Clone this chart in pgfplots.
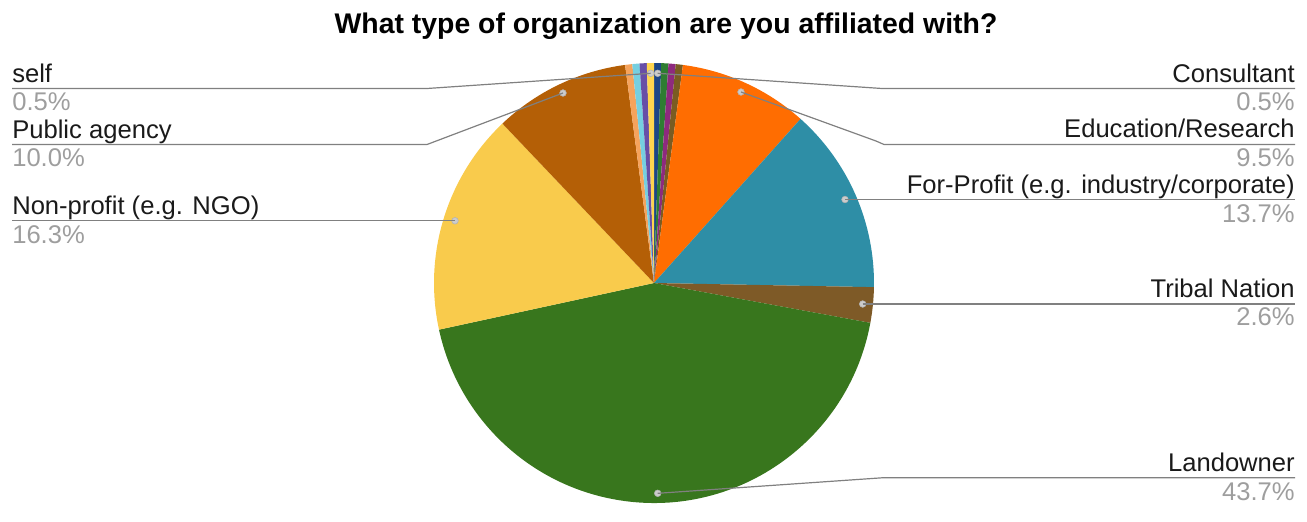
\documentclass[border=0pt]{standalone}
\usepackage{pgfplots}
\pgfplotsset{compat=1.18}
\usepackage{pgfplotstable}
\usepackage{fontspec}
\setmainfont{Liberation Sans}

\definecolor{pc0}{HTML}{1C4587}
\definecolor{pc1}{HTML}{2E7D32}
\definecolor{pc2}{HTML}{8E2A7E}
\definecolor{pc3}{HTML}{7A5C22}
\definecolor{pc4}{HTML}{FF6D01}
\definecolor{pc5}{HTML}{2E8EA6}
\definecolor{pc6}{HTML}{7E5A27}
\definecolor{pc7}{HTML}{38761D}
\definecolor{pc8}{HTML}{F9CB4C}
\definecolor{pc9}{HTML}{B45F06}
\definecolor{pc10}{HTML}{F6A35C}
\definecolor{pc11}{HTML}{76CFE0}
\definecolor{pc12}{HTML}{674EA7}
\definecolor{pc13}{HTML}{FFD54F}
\definecolor{lead}{HTML}{808080}
\definecolor{pctgray}{HTML}{9E9E9E}
\definecolor{txt}{HTML}{1A1A1A}

% slices clockwise from 12 o'clock
\pgfplotstableread{
pct idx
0.525 0
0.525 1
0.525 2
0.525 3
9.5 4
13.7 5
2.6 6
43.7 7
16.3 8
10.0 9
0.525 10
0.525 11
0.525 12
0.525 13
}\piedata
\pgfplotstablecreatecol[expr accum={\pgfmathaccuma + \thisrow{pct}}{0}]{cum}\piedata

\newcommand{\lab}{\fontsize{19.2}{22}\selectfont}

\begin{document}
\begin{tikzpicture}
\path (0,0) rectangle (980.25pt,-377.25pt);
\begin{axis}[
  at={(0,0)}, anchor=north west,
  x=0.75pt, y=0.75pt,
  xmin=0, xmax=1307, ymin=0, ymax=503,
  y dir=reverse,
  hide axis, clip=false,
  set layers,
]
% pie
\addplot[scatter, only marks, mark=*, mark size=0pt,
  visualization depends on={\thisrow{pct} \as \pct},
  visualization depends on={\thisrow{cum} \as \cum},
  visualization depends on={\thisrow{idx} \as \idx},
  scatter/@pre marker code/.code={%
    \pgfmathsetmacro\sa{90-3.6*(\cum-\pct)}%
    \pgfmathsetmacro\da{-3.6*\pct}%
    \pgfmathtruncatemacro\k{\idx}%
    \fill[fill=pc\k, draw=none] (0,0) -- (\sa:165pt) arc[start angle=\sa, delta angle=\da, radius=165pt] -- cycle;%
  },
  scatter/@post marker code/.code={},
] table[x expr=654, y expr=283] {\piedata};

% leader lines
\pgfplotsset{every axis plot/.append style={on layer=axis foreground}}
\addplot[lead, line width=0.9pt] coordinates {(12,88.5) (427,88.5) (650.7,73.3)};
\addplot[lead, line width=0.9pt] coordinates {(12,144.5) (427,144.5) (563,93)};
\addplot[lead, line width=0.9pt] coordinates {(12,220.8) (455,220.8)};
\addplot[lead, line width=0.9pt] coordinates {(657.7,73.3) (882,88.5) (1295,88.5)};
\addplot[lead, line width=0.9pt] coordinates {(741,92) (876,141) (884,144.5) (1295,144.5)};
\addplot[lead, line width=0.9pt] coordinates {(845,199.5) (1295,199.5)};
\addplot[lead, line width=0.9pt] coordinates {(862.7,304) (1295,304)};
\addplot[lead, line width=0.9pt] coordinates {(657.7,493.3) (882,477.8) (1295,477.8)};

% dots
\addplot[only marks, mark=*, mark size=2.5pt, mark options={fill=gray!40, draw=gray!60, line width=0.4pt}] coordinates {
(650.7,73.3) (657.7,73.3) (563,93) (741,92) (455,220.8) (845,199.5) (862.7,304) (657.7,493.3)};

% title
\node[anchor=base, font=\bfseries\fontsize{21.3}{24}\selectfont, text=black] at (axis cs:666,33) {What type of organization are you affiliated with?};

% left labels
\node[anchor=base west, inner sep=0pt, text=txt, font=\lab] at (axis cs:12,82) {self};
\node[anchor=base west, inner sep=0pt, text=pctgray, font=\lab] at (axis cs:12,110) {0.5\%};
\node[anchor=base west, inner sep=0pt, text=txt, font=\lab] at (axis cs:12,138) {Public agency};
\node[anchor=base west, inner sep=0pt, text=pctgray, font=\lab] at (axis cs:12,166) {10.0\%};
\node[anchor=base west, inner sep=0pt, text=txt, font=\lab] at (axis cs:12,214) {Non-profit (e.g. NGO)};
\node[anchor=base west, inner sep=0pt, text=pctgray, font=\lab] at (axis cs:12,243) {16.3\%};

% right labels
\node[anchor=base east, inner sep=0pt, text=txt, font=\lab] at (axis cs:1295,82) {Consultant};
\node[anchor=base east, inner sep=0pt, text=pctgray, font=\lab] at (axis cs:1295,110) {0.5\%};
\node[anchor=base east, inner sep=0pt, text=txt, font=\lab] at (axis cs:1295,137.5) {Education/Research};
\node[anchor=base east, inner sep=0pt, text=pctgray, font=\lab] at (axis cs:1295,166) {9.5\%};
\node[anchor=base east, inner sep=0pt, text=txt, font=\lab] at (axis cs:1295,193.5) {For-Profit (e.g. industry/corporate)};
\node[anchor=base east, inner sep=0pt, text=pctgray, font=\lab] at (axis cs:1295,222) {13.7\%};
\node[anchor=base east, inner sep=0pt, text=txt, font=\lab] at (axis cs:1295,297) {Tribal Nation};
\node[anchor=base east, inner sep=0pt, text=pctgray, font=\lab] at (axis cs:1295,325.5) {2.6\%};
\node[anchor=base east, inner sep=0pt, text=txt, font=\lab] at (axis cs:1295,471.5) {Landowner};
\node[anchor=base east, inner sep=0pt, text=pctgray, font=\lab] at (axis cs:1295,500) {43.7\%};
\end{axis}
\end{tikzpicture}
\end{document}
